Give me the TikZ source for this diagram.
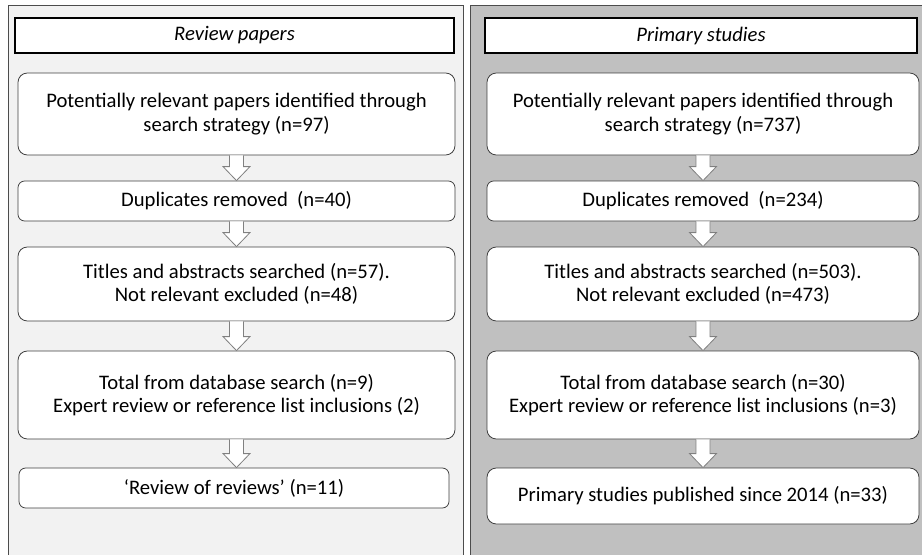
\documentclass[tikz,border=0pt]{standalone}
\usepackage{fontspec}
\setmainfont{Carlito}
\usetikzlibrary{calc}
\definecolor{leftpanel}{HTML}{F2F2F2}
\definecolor{rightpanel}{HTML}{C0C0C0}
\begin{document}
\begin{tikzpicture}[x=0.75pt, y=-0.75pt,
  every node/.style={font=\fontsize{15.5}{17.4}\selectfont},
  header/.style={draw=black, line width=1.9pt, fill=white, minimum height=26.25pt, inner sep=0pt, font=\fontsize{15.5}{17.4}\selectfont\itshape},
  stagebox/.style={draw=black!75, line width=0.6pt, fill=white, rounded corners=7pt, align=center, inner sep=0pt},
  flowarrow/.style={draw=black!50, fill=white, line width=0.6pt}]
\useasboundingbox (0,0) rectangle (922,554);
% the two columns
\draw[draw=black!70, fill=leftpanel] (8,5) rectangle (463,565);
\draw[draw=black!70, fill=rightpanel] (470,5) rectangle (935,565);
% review papers
\node[header, minimum width=329.25pt] (lh) at (234.5,35.5) {Review papers};
\node[stagebox, minimum width=327.75pt, minimum height=61.5pt] (l1) at (236.5,114) {Potentially relevant papers identified through\\search strategy (n=97)};
\node[stagebox, minimum width=327.75pt, minimum height=30pt, rounded corners=5pt] (l2) at (236.5,201) {Duplicates removed~ (n=40)};
\node[stagebox, minimum width=327.75pt, minimum height=55.5pt] (l3) at (236.5,284) {Titles and abstracts searched (n=57).\\Not relevant excluded (n=48)};
\node[stagebox, minimum width=327.75pt, minimum height=66pt] (l4) at (236.5,395) {Total from database search (n=9)\\Expert review or reference list inclusions (2)};
\node[stagebox, minimum width=322.5pt, minimum height=30pt, rounded corners=5pt] (l5) at (234,488) {‘Review of reviews’ (n=11)};
% primary studies
\node[header, minimum width=324pt] (rh) at (701,35.5) {Primary studies};
\node[stagebox, minimum width=324pt, minimum height=61.5pt] (r1) at (703,114) {Potentially relevant papers identified through\\search strategy (n=737)};
\node[stagebox, minimum width=324pt, minimum height=30pt, rounded corners=5pt] (r2) at (703,201) {Duplicates removed~ (n=234)};
\node[stagebox, minimum width=324pt, minimum height=55.5pt] (r3) at (703,284) {Titles and abstracts searched (n=503).\\Not relevant excluded (n=473)};
\node[stagebox, minimum width=324pt, minimum height=66pt] (r4) at (703,395) {Total from database search (n=30)\\Expert review or reference list inclusions (n=3)};
\node[stagebox, minimum width=324pt, minimum height=42pt] (r5) at (703,496) {Primary studies published since 2014 (n=33)};
% block arrows
\foreach \a/\b in {l1/l2,l2/l3,l3/l4,l4/l5,r1/r2,r2/r3,r3/r4,r4/r5}
  \draw[flowarrow] let \p1=(\a.south), \p2=(\b.north) in
    (\x1-5.25pt,\y1) -- (\x1-5.25pt,\y2+10.5pt) -- (\x1-10.1pt,\y2+10.5pt) -- (\x1,\y2)
    -- (\x1+10.1pt,\y2+10.5pt) -- (\x1+5.25pt,\y2+10.5pt) -- (\x1+5.25pt,\y1);
\end{tikzpicture}
\end{document}
